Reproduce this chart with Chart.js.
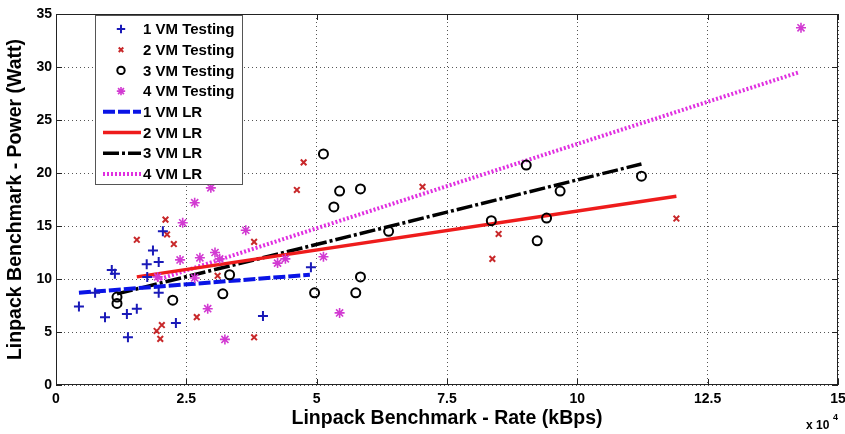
<!DOCTYPE html>
<html lang="en">
<head>
<meta charset="UTF-8">
<title>Linpack Benchmark - Power vs Rate</title>
<script src="https://cdn.jsdelivr.net/npm/chart.js"></script>
<style>
*{margin:0;padding:0;box-sizing:border-box;}
body{background:#fff;width:845px;height:434px;overflow:hidden;}
.wrap{position:relative;width:845px;height:434px;}
</style>
</head>
<body>
<div class="wrap"><canvas id="chart" width="845" height="434"></canvas></div>
<script>
// rate in kBps, power in Watt
const vm1Rate=[4400,7500,9400,10700,11300,13600,13800,15500,17400,17500,18600,19700,19700,20500,23000,39700,48900];
const vm1Power=[7.4,8.7,6.4,10.85,10.5,6.7,4.5,7.2,11.4,10.2,12.7,11.6,8.7,14.5,5.85,6.5,11.1];

const vm2Rate=[15500,19300,20000,20300,21000,21300,22600,27000,31000,38000,38000,46200,47500,70300,83700,84900,119000];
const vm2Power=[13.7,5.1,4.35,5.66,15.6,14.2,13.3,6.4,10.3,13.5,4.5,18.4,21.0,18.7,11.9,14.25,15.7];

const vm3Rate=[11700,11700,22400,32000,33300,49600,51300,53300,54400,57500,58400,58400,63800,83500,90200,92300,94100,96700,112300];
const vm3Power=[8.3,7.7,8.0,8.6,10.4,8.7,21.8,16.8,18.3,8.7,18.5,10.2,14.5,15.5,20.75,13.6,15.75,18.3,19.7];

const vm4Rate=[19500,23800,24300,26600,26600,27600,29100,29700,30500,31400,32400,36400,42500,44000,51300,54400,142900];
const vm4Power=[10.2,11.8,15.3,17.2,10.1,12.0,7.2,18.6,12.5,11.9,4.3,14.6,11.5,11.9,12.1,6.8,33.7];

// linear regression lines (end points)
const lr1Rate=[4400,48700], lr1Power=[8.7,10.4];
const lr2Rate=[15500,119000], lr2Power=[10.2,17.8];
const lr3Rate=[11700,112300], lr3Power=[8.6,20.85];
const lr4Rate=[19300,142500], lr4Power=[9.9,29.5];

const xTicks=[0,25000,50000,75000,100000,125000,150000];
const yTicks=[0,5,10,15,20,25,30,35];

const FONT="'Liberation Sans',Arial,sans-serif";
Chart.defaults.font.family=FONT;
Chart.defaults.font.weight='bold';
Chart.defaults.color='#000';

function pts(xs,ys){return xs.map((x,i)=>({x:x,y:ys[i]}));}

const frame={
    id:'frame',
    afterDatasetsDraw(chart){
        const {ctx,chartArea:a,scales:{x,y}}=chart;
        ctx.save();
        ctx.strokeStyle='#222';ctx.lineWidth=1;
        ctx.beginPath();
        x.ticks.forEach(t=>{
            const px=Math.round(x.getPixelForValue(t.value))+0.5;
            ctx.moveTo(px,a.bottom);ctx.lineTo(px,a.bottom-6);
            ctx.moveTo(px,a.top);ctx.lineTo(px,a.top+6);
        });
        y.ticks.forEach(t=>{
            const py=Math.round(y.getPixelForValue(t.value))+0.5;
            ctx.moveTo(a.left,py);ctx.lineTo(a.left+6,py);
            ctx.moveTo(a.right,py);ctx.lineTo(a.right-6,py);
        });
        ctx.stroke();
        ctx.strokeRect(Math.round(a.left)+0.5,Math.round(a.top)+0.5,Math.round(a.right-a.left)-1,Math.round(a.bottom-a.top)-1);
        ctx.restore();
    },
    afterDraw(chart){
        const ctx=chart.ctx;
        // legend box
        const L=95,T=15,W=147,H=169;
        ctx.save();
        ctx.fillStyle='#fff';ctx.fillRect(L,T,W,H);
        ctx.strokeStyle='#555';ctx.lineWidth=1;ctx.strokeRect(L+0.5,T+0.5,W,H);
        ctx.font='bold 15px '+FONT;ctx.textBaseline='middle';ctx.textAlign='left';
        chart.data.datasets.forEach((ds,i)=>{
            const cy=T+14+i*20.7;
            ctx.strokeStyle=ds.borderColor;
            if(ds.showLine){
                ctx.lineWidth=ds.borderWidth;ctx.setLineDash(ds.borderDash||[]);
                ctx.beginPath();ctx.moveTo(103,cy);ctx.lineTo(141,cy);ctx.stroke();
                ctx.setLineDash([]);
            }else{
                ctx.lineWidth=ds.pointBorderWidth;
                ctx.fillStyle=ds.backgroundColor;
                Chart.helpers.drawPoint(ctx,{pointStyle:ds.pointStyle,radius:ds.pointRadius-0.8,borderWidth:ds.pointBorderWidth,rotation:0},121,cy);
            }
            ctx.fillStyle='#000';
            ctx.fillText(ds.label,143,cy+1);
        });
        // x 10^4 multiplier
        ctx.font='bold 12px '+FONT;ctx.textAlign='left';ctx.textBaseline='alphabetic';
        ctx.fillText('x 10',806,429);
        ctx.font='bold 9px '+FONT;
        ctx.fillText('4',833,420);
        ctx.restore();
    }
};

new Chart(document.getElementById('chart'),{
    type:'scatter',
    data:{datasets:[
        {label:'1 VM Testing',data:pts(vm1Rate,vm1Power),showLine:false,pointStyle:'cross',pointRadius:5,pointBorderWidth:2,borderColor:'#1a1ab8',backgroundColor:'#1a1ab8'},
        {label:'2 VM Testing',data:pts(vm2Rate,vm2Power),showLine:false,pointStyle:'crossRot',pointRadius:4,pointBorderWidth:2,borderColor:'#c8282a',backgroundColor:'#c8282a'},
        {label:'3 VM Testing',data:pts(vm3Rate,vm3Power),showLine:false,pointStyle:'circle',pointRadius:4.5,pointBorderWidth:2,borderColor:'#000',backgroundColor:'rgba(0,0,0,0)'},
        {label:'4 VM Testing',data:pts(vm4Rate,vm4Power),showLine:false,pointStyle:'star',pointRadius:5,pointBorderWidth:1.6,borderColor:'#d23ad2',backgroundColor:'#d23ad2'},
        {label:'1 VM LR',data:pts(lr1Rate,lr1Power),showLine:true,borderColor:'#0a14e6',borderWidth:4,borderDash:[12,3],pointRadius:0},
        {label:'2 VM LR',data:pts(lr2Rate,lr2Power),showLine:true,borderColor:'#ee1c1c',borderWidth:3.5,pointRadius:0},
        {label:'3 VM LR',data:pts(lr3Rate,lr3Power),showLine:true,borderColor:'#000',borderWidth:3.5,borderDash:[16,3,3,3],pointRadius:0},
        {label:'4 VM LR',data:pts(lr4Rate,lr4Power),showLine:true,borderColor:'#e030e0',borderWidth:4,borderDash:[2,2],pointRadius:0}
    ]},
    options:{
        responsive:false,animation:false,
        layout:{padding:{top:14,right:6,left:0,bottom:0}},
        plugins:{legend:{display:false},tooltip:{enabled:false}},
        scales:{
            x:{
                type:'linear',min:0,max:150000,
                afterBuildTicks(s){s.ticks=xTicks.map(v=>({value:v}));},
                afterFit(s){s.height=49;s.paddingLeft=0;s.paddingRight=0;},
                grid:{color:'#555',lineWidth:1,drawTicks:false},
                border:{display:false,dash:[1,3]},
                ticks:{padding:6,font:{size:14,weight:'bold'},callback:v=>v/10000,maxRotation:0},
                title:{display:true,text:'Linpack Benchmark - Rate (kBps)',font:{size:19.5,weight:'bold'},padding:{top:0,bottom:4}}
            },
            y:{
                min:0,max:35,
                afterBuildTicks(s){s.ticks=yTicks.map(v=>({value:v}));},
                afterFit(s){s.width=56;s.paddingTop=0;s.paddingBottom=0;},
                grid:{color:'#555',lineWidth:1,drawTicks:false},
                border:{display:false,dash:[1,3]},
                ticks:{padding:4,font:{size:14,weight:'bold'}},
                title:{display:true,text:'Linpack Benchmark - Power (Watt)',font:{size:19.5,weight:'bold'},padding:{top:4,bottom:0}}
            }
        }
    },
    plugins:[frame]
});
</script>
</body>
</html>
